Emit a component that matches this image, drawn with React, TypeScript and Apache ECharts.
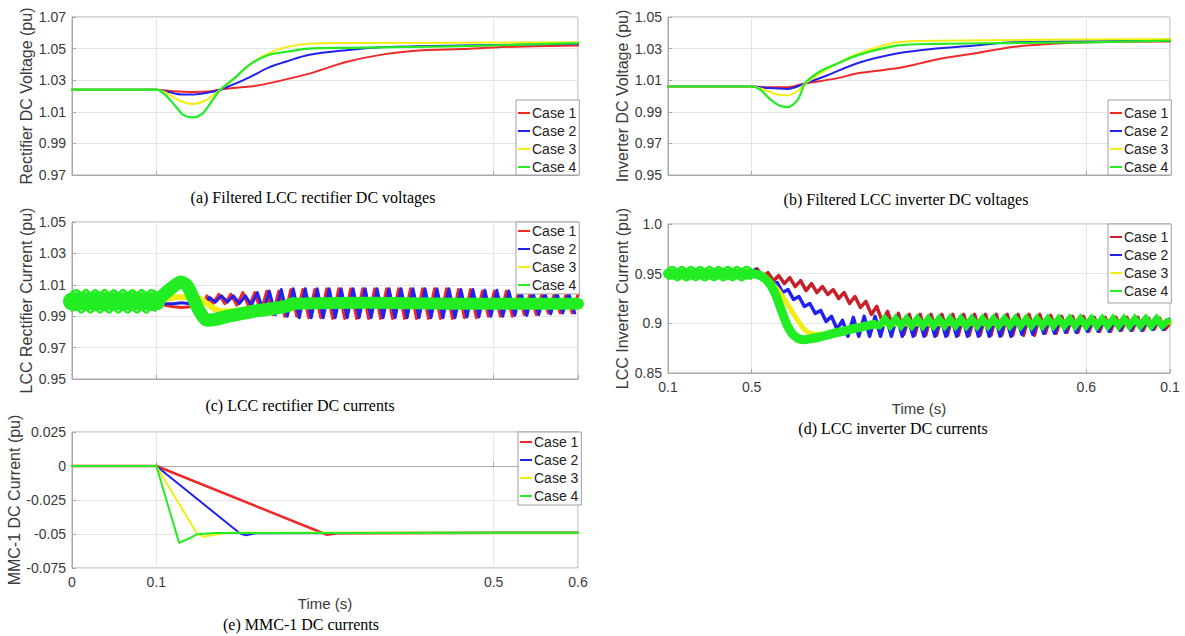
import React, { useEffect, useRef } from "react";
import * as echarts from "echarts";

const CASES = ["Case 1", "Case 2", "Case 3", "Case 4"];
const COLORS = ["#f02828", "#2222ee", "#f2ee14", "#22ec22"];
const RED_D = "#c8202a";
const X_TICKS = [0, 0.1, 0.5, 0.6];
const X_LABELS_D = ["0.1", "0.5", "0.6", "0.1"];
const X_LABELS_E = ["0", "0.1", "0.5", "0.6"];
const Y_TICKS_A = [0.97, 0.99, 1.01, 1.03, 1.05, 1.07];
const Y_TICKS_B = [0.95, 0.97, 0.99, 1.01, 1.03, 1.05];
const Y_TICKS_C = [0.95, 0.97, 0.99, 1.01, 1.03, 1.05];
const Y_TICKS_D = [0.85, 0.9, 0.95, 1.0];
const Y_TICKS_E = [-0.075, -0.05, -0.025, 0, 0.025];
const Y_NAMES = [
  "Rectifier DC Voltage (pu)",
  "Inverter DC Voltage (pu)",
  "LCC Rectifier Current (pu)",
  "LCC Inverter Current (pu)",
  "MMC-1 DC Current (pu)",
];
const CAPTIONS = [
  "(a) Filtered LCC rectifier DC voltages",
  "(b) Filtered LCC inverter DC voltages",
  "(c) LCC rectifier DC currents",
  "(d) LCC inverter DC currents",
  "(e) MMC-1 DC currents",
];

// ---------- (a) rectifier DC voltage ----------
const aRed = [[0,1.024],[0.1,1.024],[0.12,1.023],[0.145,1.0225],[0.165,1.023],[0.18,1.0245],[0.211,1.026],[0.233,1.028],[0.28,1.034],[0.325,1.0415],[0.371,1.0465],[0.416,1.049],[0.462,1.0497],[0.51,1.051],[0.6,1.052]];
const aBlue = [[0,1.024],[0.1,1.024],[0.115,1.0225],[0.13,1.021],[0.145,1.021],[0.16,1.022],[0.176,1.024],[0.19,1.027],[0.211,1.032],[0.233,1.038],[0.255,1.042],[0.28,1.046],[0.325,1.049],[0.371,1.051],[0.46,1.052],[0.6,1.053]];
const aYellow = [[0,1.024],[0.1,1.024],[0.112,1.022],[0.128,1.017],[0.143,1.015],[0.158,1.017],[0.17,1.0215],[0.178,1.025],[0.192,1.031],[0.211,1.040],[0.233,1.047],[0.255,1.051],[0.28,1.053],[0.33,1.0535],[0.6,1.054]];
const aGreen = [[0,1.024],[0.1,1.024],[0.11,1.021],[0.122,1.014],[0.132,1.008],[0.143,1.0065],[0.155,1.009],[0.166,1.017],[0.176,1.024],[0.192,1.031],[0.211,1.040],[0.233,1.046],[0.255,1.048],[0.28,1.050],[0.33,1.0505],[0.4,1.051],[0.5,1.052],[0.6,1.0535]];

// ---------- (b) inverter DC voltage ----------
const bRed = [[0,1.006],[0.1,1.006],[0.12,1.0055],[0.143,1.0055],[0.164,1.008],[0.2,1.011],[0.228,1.0145],[0.25,1.016],[0.275,1.0177],[0.3,1.0205],[0.32,1.023],[0.367,1.027],[0.412,1.031],[0.459,1.033],[0.504,1.034],[0.6,1.0345]];
const bBlue = [[0,1.006],[0.1,1.006],[0.12,1.005],[0.143,1.0045],[0.164,1.008],[0.19,1.013],[0.228,1.021],[0.275,1.027],[0.32,1.030],[0.367,1.032],[0.412,1.034],[0.6,1.035]];
const bYellow = [[0,1.006],[0.1,1.006],[0.115,1.004],[0.13,1.001],[0.143,1.0005],[0.155,1.003],[0.164,1.008],[0.2,1.02],[0.228,1.027],[0.275,1.034],[0.32,1.035],[0.6,1.036]];
const bGreen = [[0,1.006],[0.1,1.006],[0.11,1.004],[0.122,0.998],[0.133,0.994],[0.143,0.993],[0.155,0.9975],[0.164,1.008],[0.18,1.015],[0.2,1.02],[0.228,1.026],[0.275,1.032],[0.32,1.033],[0.4,1.0335],[0.5,1.034],[0.6,1.035]];

// ---------- (c) rectifier DC current ----------
const cRedEarly = [[0,1.0],[0.1,1.0],[0.11,0.997],[0.12,0.996],[0.13,0.9955],[0.14,0.996],[0.15,0.998],[0.158,1.0]];
const cRedSawT0 = 0.16, cRedSawStep = 0.0071;
const cRedSaw = [1.003,0.998,1.004,0.998,1.004,0.997,1.005,0.996,
  1.005,0.993,1.006,0.991,1.006,0.990,1.007,0.990,1.007,0.989,1.007,0.989,
  1.0075,0.9885,1.0075,0.9885,1.0075,0.9885,1.0075,0.9885,1.0075,0.9885,1.0075,0.9885,1.0075,0.9885,1.0075,0.9885,1.0075,0.9885,1.0075,0.9885,1.0075,0.9885,
  1.007,0.989,1.007,0.989,1.006,0.990,1.006,0.990,1.006,0.990,1.005,0.991,1.005,0.991,1.005,0.992,1.004,0.992,1.004,0.992,1.004];
const cBlueEarly = [[0,1.0],[0.1,1.0],[0.11,0.998],[0.12,0.998],[0.13,0.9985],[0.14,0.998],[0.15,0.999],[0.161,1.0]];
const cBlueSawT0 = 0.163, cBlueSawStep = 0.0071;
const cBlueSaw = [1.002,0.999,1.003,0.999,1.003,0.998,1.003,0.997,
  1.005,0.993,1.006,0.991,1.007,0.990,1.0075,0.989,1.0075,0.989,1.0075,0.989,
  1.0075,0.989,1.0075,0.989,1.0075,0.989,1.0075,0.989,1.0075,0.989,1.0075,0.989,1.0075,0.989,1.0075,0.989,1.0075,0.989,1.0075,0.989,1.0075,0.989,
  1.007,0.9895,1.007,0.9895,1.0065,0.990,1.0065,0.990,1.006,0.9905,1.006,0.9905,1.0055,0.991,1.005,0.9915,1.005,0.992,1.0045,0.992];
const cYellow = [[0,1.0],[0.1,1.0],[0.112,1.001],[0.125,1.002],[0.14,1.002],[0.152,1.001],[0.16,0.998],[0.168,0.995],[0.178,0.993],[0.195,0.9935],[0.215,0.995],[0.25,0.997],[0.6,0.998]];
// pre-fault green band: middle and ripple edges
const cGreenPreMid = [[0,0.9995],[0.1,0.9995]];
const cGreenEdgeStep = 0.0055;
const cGreenPreTop = [1.0055,1.0066,1.0048,1.0067,1.0047,1.0066,1.0048,1.0067,1.0047,1.0066,1.0048,1.0067,1.0047,1.0066,1.0048,1.0067,1.0047,1.0066,1.0055];
const cGreenPreBot = [0.9935,0.9942,0.9924,0.9943,0.9923,0.9942,0.9924,0.9943,0.9923,0.9942,0.9924,0.9943,0.9923,0.9942,0.9924,0.9943,0.9923,0.9942,0.9935];
const cGreenHump = [[0.099,0.9995],[0.108,1.0035],[0.118,1.008],[0.129,1.0118],[0.137,1.009],[0.145,1.0],[0.152,0.9925],[0.16,0.9875],[0.17,0.988],[0.185,0.99],[0.2,0.9915],[0.22,0.9935],[0.24,0.995],[0.255,0.9965],[0.262,0.998]];
const cGreenPost = [[0.262,0.998],[0.35,0.9985],[0.45,0.998],[0.6,0.998]];

// ---------- (d) inverter DC current ----------
const dRedT0 = 0.1, dRedStep = 0.0065;
const dRed = [0.952,0.955,0.947,0.951,0.943,0.948,0.940,0.946,0.937,0.943,0.933,0.940,0.931,0.937,0.929,0.934,0.925,0.931,0.920,0.927,0.916,0.922,0.909,0.917,0.902,0.912,0.896,0.910,0.889,0.909,
  0.888,0.909,0.888,0.909,0.888,0.909,0.888,0.909,0.888,0.909,0.888,0.909,0.888,0.909,0.888,0.909,0.888,0.909,0.888,0.909,0.888,0.909,0.888,0.909,
  0.890,0.908,0.890,0.907,0.891,0.907,0.891,0.907,0.892,0.906,0.892,0.906,0.892,0.906,0.893,0.906,0.893,0.906,0.893,0.905,0.894,0.905,0.894];
const dBlueT0 = 0.098, dBlueStep = 0.0065;
const dBlue = [0.951,0.954,0.945,0.947,0.938,0.941,0.931,0.934,0.924,0.927,0.917,0.920,0.910,0.913,0.902,0.907,0.894,0.903,0.887,0.906,0.887,
  0.907,0.887,0.907,0.887,0.907,0.887,0.907,0.887,0.907,0.887,0.907,0.887,0.907,0.887,0.907,0.887,0.907,0.887,0.907,0.887,0.907,0.887,0.907,0.887,0.907,0.887,0.907,0.887,
  0.907,0.889,0.906,0.889,0.906,0.890,0.906,0.890,0.906,0.891,0.905,0.891,0.905,0.892,0.905,0.892,0.905,0.892,0.904,0.893,0.904,0.893,0.904,0.893,0.904,0.894,0.904,0.894,0.904];
const dYellow = [[0,0.95],[0.1,0.95],[0.112,0.947],[0.122,0.942],[0.13,0.935],[0.136,0.928],[0.146,0.915],[0.155,0.903],[0.164,0.893],[0.172,0.8895],[0.182,0.889],[0.195,0.891],[0.21,0.894],[0.25,0.899],[0.6,0.901]];
const dGreenPreMid = [[0,0.95],[0.1,0.95]];
const dGreenEdgeStep = 0.0055;
const dGreenPreTop = [0.955,0.9566,0.9545,0.9567,0.9544,0.9566,0.9545,0.9567,0.9544,0.9566,0.9545,0.9567,0.9544,0.9566,0.9545,0.9567,0.9544,0.9566,0.955];
const dGreenPreBot = [0.945,0.9455,0.9434,0.9456,0.9433,0.9455,0.9434,0.9456,0.9433,0.9455,0.9434,0.9456,0.9433,0.9455,0.9434,0.9456,0.9433,0.9455,0.945];
const dGreenFall = [[0.099,0.95],[0.108,0.949],[0.116,0.945],[0.123,0.938],[0.129,0.928],[0.136,0.912],[0.142,0.899],[0.148,0.89],[0.155,0.885],[0.162,0.8835],[0.17,0.8845],[0.18,0.886],[0.19,0.888],[0.2,0.8905],[0.21,0.892],[0.22,0.8945],[0.23,0.896],[0.24,0.898],[0.246,0.899]];
const dGreenPostT0 = 0.246, dGreenPostStep = 0.0065;
const dGreenPost = [0.899,0.8975,0.9045,0.8975,0.9045,0.8975,0.9045,0.8975,0.9045,0.8975,0.9045,0.8975,0.9045,0.8975,0.9045,0.8975,0.9045,0.8975,0.9045,0.8975,
  0.9045,0.8975,0.9045,0.8975,0.9045,0.8975,0.9045,0.8975,0.9045,0.8975,0.9045,0.8975,0.9045,0.8975,0.9045,0.8975,0.9045,0.8975,0.9045,0.8975,
  0.9045,0.8975,0.9045,0.8975,0.9045,0.8975,0.9045,0.8975,0.9045,0.8975,0.9045,0.8975,0.9045,0.8975,0.902];

// ---------- (e) MMC-1 DC current ----------
const eRed = [[0,0],[0.1,0],[0.292,-0.048],[0.302,-0.0505],[0.315,-0.0495],[0.6,-0.049]];
const eBlue = [[0,0],[0.1,0],[0.199,-0.0495],[0.206,-0.051],[0.218,-0.0495],[0.6,-0.049]];
const eYellow = [[0,0],[0.1,0],[0.148,-0.0495],[0.156,-0.052],[0.168,-0.0505],[0.185,-0.049],[0.6,-0.049]];
const eGreen = [[0,0],[0.1,0],[0.127,-0.0565],[0.138,-0.0535],[0.148,-0.0502],[0.17,-0.0493],[0.6,-0.049]];

const seq = (t0: number, step: number, vals: number[]) =>
  vals.map((v, i) => [Math.round((t0 + i * step) * 100000) / 100000, v]);

const SANS = "'Liberation Sans', Arial, Helvetica, sans-serif";
const SERIF = "'Liberation Serif', 'Times New Roman', serif";
const TXT = "#3a3a3a";
const AXC = "#a8a8a8";

function buildOption() {
  const grids = [
    { left: 72, top: 17, width: 506, height: 158 },
    { left: 668, top: 17, width: 502, height: 158 },
    { left: 72, top: 222, width: 506, height: 157 },
    { left: 668, top: 224, width: 502, height: 149 },
    { left: 72, top: 432, width: 506, height: 136 },
  ].map((g) => ({ ...g, show: true, borderColor: AXC, borderWidth: 1, backgroundColor: "#fff" }));

  const yRanges = [
    [0.97, 1.07, Y_TICKS_A, 34],
    [0.95, 1.05, Y_TICKS_B, 37],
    [0.95, 1.05, Y_TICKS_C, 34],
    [0.85, 1.0, Y_TICKS_D, 33],
    [-0.075, 0.025, Y_TICKS_E, 47],
  ] as any[];

  const xAxis = grids.map((_, i) => {
    const showLab = i === 3 || i === 4;
    const labels = i === 3 ? X_LABELS_D : X_LABELS_E;
    return {
      type: "value",
      gridIndex: i,
      min: 0,
      max: 0.6,
      axisLine: { show: true, lineStyle: { color: AXC, width: 1 } },
      axisTick: { show: true, inside: true, length: 4, customValues: X_TICKS, lineStyle: { color: AXC } },
      axisLabel: {
        show: showLab,
        customValues: X_TICKS,
        margin: 7,
        color: TXT,
        fontSize: 14,
        fontFamily: SANS,
        formatter: (v: number) => {
          const k = X_TICKS.findIndex((t) => Math.abs(t - v) < 1e-9);
          return k >= 0 ? labels[k] : "";
        },
      },
      splitLine: { show: true, lineStyle: { color: "#e6e6e6", width: 1 } },
      name: showLab ? "Time (s)" : "",
      nameLocation: "middle",
      nameGap: 28,
      nameTextStyle: { color: TXT, fontSize: 15, fontFamily: SANS },
    };
  });

  const yAxis = grids.map((_, i) => {
    const [mn, mx, ticks, gap] = yRanges[i];
    return {
      type: "value",
      gridIndex: i,
      min: mn,
      max: mx,
      axisLine: { show: true, lineStyle: { color: AXC, width: 1 } },
      axisTick: { show: true, inside: true, length: 4, customValues: ticks, lineStyle: { color: AXC } },
      axisLabel: {
        customValues: ticks,
        margin: 6,
        color: TXT,
        fontSize: 14,
        fontFamily: SANS,
        formatter: (v: number) => (i === 3 && Math.abs(v - 1) < 1e-9 ? "1.0" : String(Math.round(v * 1000) / 1000)),
      },
      splitLine: { show: true, lineStyle: { color: "#e6e6e6", width: 1 } },
      name: Y_NAMES[i],
      nameLocation: "middle",
      nameGap: gap,
      nameTextStyle: { color: TXT, fontSize: 16, fontFamily: SANS },
    };
  });

  const mk = (gi: number, ci: number, data: any[], width: number, z: number, smooth: number, color?: string, join = "round") => ({
    type: "line",
    name: CASES[ci],
    xAxisIndex: gi,
    yAxisIndex: gi,
    data,
    symbol: "none",
    showSymbol: false,
    silent: true,
    smooth,
    z,
    lineStyle: { color: color || COLORS[ci], width, join, cap: "round" },
    itemStyle: { color: color || COLORS[ci] },
  });

  const G = COLORS[3];
  const series = [
    mk(0, 0, aRed, 2, 2, 0.3), mk(0, 1, aBlue, 2, 3, 0.3), mk(0, 2, aYellow, 2, 4, 0.3), mk(0, 3, aGreen, 2.2, 5, 0.3),
    mk(1, 0, bRed, 2, 2, 0.3), mk(1, 1, bBlue, 2, 3, 0.3), mk(1, 2, bYellow, 2, 4, 0.3), mk(1, 3, bGreen, 2.2, 5, 0.3),
    mk(2, 0, [...cRedEarly, ...seq(cRedSawT0, cRedSawStep, cRedSaw)], 3, 2, 0),
    mk(2, 1, [...cBlueEarly, ...seq(cBlueSawT0, cBlueSawStep, cBlueSaw)], 3, 3, 0),
    mk(2, 2, cYellow, 6, 4, 0.3),
    mk(2, 3, cGreenPreMid, 18, 5, 0),
    mk(2, 3, seq(0, cGreenEdgeStep, cGreenPreTop), 2.5, 5, 0.5),
    mk(2, 3, seq(0, cGreenEdgeStep, cGreenPreBot), 2.5, 5, 0.5),
    mk(2, 3, cGreenHump, 13, 5, 0.3),
    mk(2, 3, cGreenPost, 12, 5, 0.3),
    mk(3, 0, [[0, 0.95], ...seq(dRedT0, dRedStep, dRed), [0.6, 0.9]], 3.5, 2, 0, RED_D),
    mk(3, 1, [[0, 0.95], ...seq(dBlueT0, dBlueStep, dBlue)], 3.5, 3, 0),
    mk(3, 2, dYellow, 5, 4, 0.3),
    mk(3, 3, dGreenPreMid, 10, 5, 0),
    mk(3, 3, seq(0, dGreenEdgeStep, dGreenPreTop), 2.5, 5, 0.5),
    mk(3, 3, seq(0, dGreenEdgeStep, dGreenPreBot), 2.5, 5, 0.5),
    mk(3, 3, dGreenFall, 9, 5, 0.3),
    mk(3, 3, seq(dGreenPostT0, dGreenPostStep, dGreenPost), 7, 5, 0, G, "miter"),
    mk(4, 0, eRed, 2.5, 2, 0), mk(4, 1, eBlue, 2, 3, 0), mk(4, 2, eYellow, 2, 4, 0), mk(4, 3, eGreen, 2, 5, 0),
  ];

  const legendPos = [
    { left: 516, top: 100, padding: [6, 3, 1, 2] },
    { left: 1108, top: 100, padding: [6, 3, 1, 2] },
    { left: 516, top: 222, padding: [2, 3, 2, 2] },
    { left: 1108, top: 224, padding: [6, 3, 5, 2] },
    { left: 518, top: 432, padding: [3, 3, 2, 2] },
  ];
  const legend = legendPos.map((p, i) => ({
    ...p,
    orient: "vertical",
    data: CASES.map((n) => ({ name: n, itemStyle: { color: i === 3 && n === "Case 1" ? RED_D : COLORS[CASES.indexOf(n)] } })),
    icon: "rect",
    itemWidth: 12,
    itemHeight: 2,
    itemGap: 4,
    selectedMode: false,
    backgroundColor: "#fff",
    borderColor: "#a0a0a0",
    borderWidth: 1,
    borderRadius: 0,
    textStyle: { color: "#222", fontSize: 14, fontFamily: SANS, lineHeight: 14, padding: [0, 0, 0, -3] },
    z: 10,
  }));

  const capPos = [[313, 197], [906, 199], [300, 405], [893, 428], [301, 624]];
  const graphic = CAPTIONS.map((t, i) => ({
    type: "text",
    x: capPos[i][0],
    y: capPos[i][1],
    silent: true,
    style: {
      text: t,
      fill: "#000",
      fontSize: 16,
      fontFamily: SERIF,
      align: "center",
      verticalAlign: "middle",
      textAlign: "center",
      textVerticalAlign: "middle",
    },
  }));

  return {
    animation: false,
    backgroundColor: "#fff",
    grid: grids,
    xAxis,
    yAxis,
    legend,
    series,
    graphic,
  };
}

export default function App() {
  const ref = useRef<HTMLDivElement>(null);
  useEffect(() => {
    document.body.style.margin = "0";
    const chart = echarts.init(ref.current as HTMLDivElement, null, { renderer: "svg" });
    chart.setOption(buildOption() as any);
    return () => chart.dispose();
  }, []);
  return <div ref={ref} style={{ width: 1185, height: 636 }} />;
}
